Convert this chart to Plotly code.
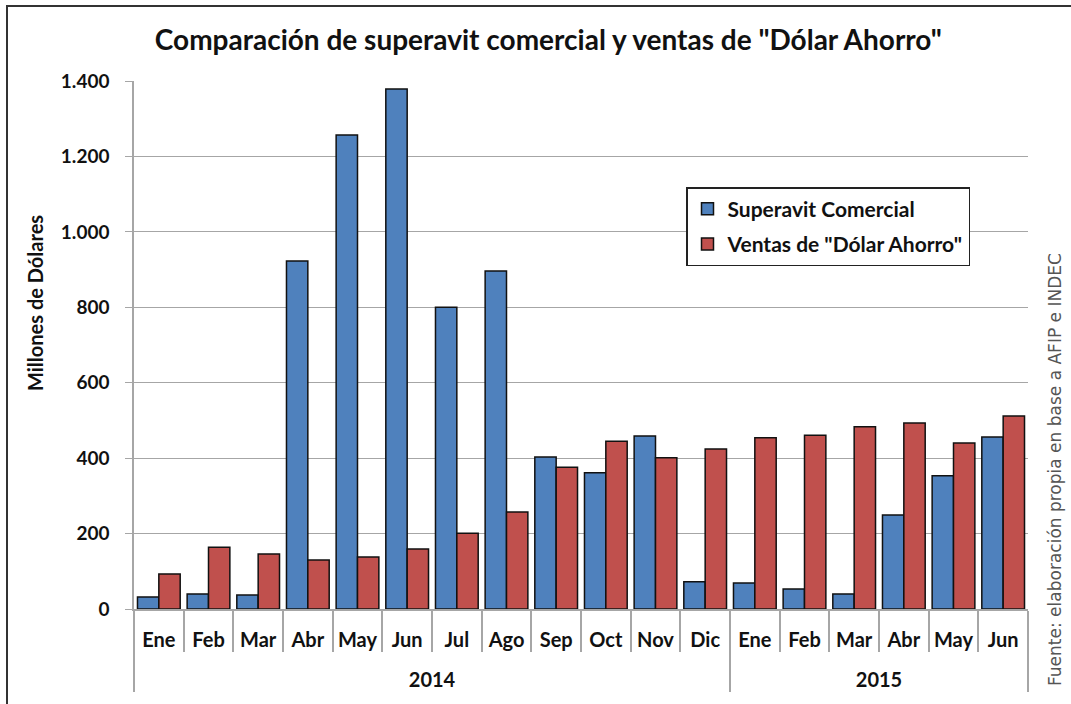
import plotly.graph_objects as go

years = ["2014"] * 12 + ["2015"] * 6
months = ["Ene", "Feb", "Mar", "Abr", "May", "Jun", "Jul", "Ago", "Sep", "Oct", "Nov", "Dic",
          "Ene", "Feb", "Mar", "Abr", "May", "Jun"]
superavit = [32, 40, 37, 923, 1257, 1379, 800, 896, 403, 361, 459, 72,
             69, 53, 40, 249, 353, 456]
dolar_ahorro = [93, 164, 146, 130, 138, 159, 201, 257, 376, 445, 401, 424,
                454, 461, 483, 493, 440, 512]
y_ticks = [0, 200, 400, 600, 800, 1000, 1200, 1400]
y_tick_text = ["0", "200", "400", "600", "800", "1.000", "1.200", "1.400"]

FONT = "Lato"
W, H = 1071, 704
L, R, T, B = 134, 43, 81, 95
pw, ph = W - L - R, H - T - B

year_labels = ["<br>" + y for y in years]

fig = go.Figure()
fig.add_trace(go.Bar(
    x=[year_labels, months], y=superavit, name="Superavit Comercial",
    legendgroup="a",
    marker=dict(color="#4F81BD", line=dict(color="#111111", width=1.5)),
))
fig.add_trace(go.Bar(
    x=[year_labels, months], y=dolar_ahorro, name='Ventas de "Dólar Ahorro"',
    legendgroup="b",
    marker=dict(color="#C0504D", line=dict(color="#111111", width=1.5)),
))

fig.update_layout(
    width=W, height=H,
    margin=dict(l=L, r=R, t=T, b=B, autoexpand=False),
    paper_bgcolor="white", plot_bgcolor="white",
    barmode="group", bargap=0.14, bargroupgap=0,
    font=dict(family=FONT, color="#111111"),
    title=dict(text='<b>Comparación de superavit comercial y ventas de "Dólar Ahorro"</b>',
               x=0.512, xanchor="center", y=0.943, yanchor="middle",
               font=dict(size=28, family=FONT, color="#111111")),
    legend=dict(x=(686 - L) / pw, y=1 - (187 - T) / ph, xanchor="left", yanchor="top",
                bgcolor="white", bordercolor="#222222", borderwidth=1.5,
                font=dict(size=21, family=FONT, color="#111111", weight="bold"),
                itemwidth=30, traceorder="grouped", tracegroupgap=5),
    showlegend=True,
)

fig.update_yaxes(
    range=[0, 1400], tickvals=y_ticks, ticktext=y_tick_text,
    showgrid=True, gridcolor="#A6A6A6", gridwidth=1.2,
    showline=True, linecolor="#A6A6A6", linewidth=1.5,
    ticks="outside", ticklen=7, tickcolor="#A6A6A6",
    ticklabelstandoff=12,
    tickfont=dict(size=19, family=FONT, color="#111111", weight="bold"),
    zeroline=False,
)
fig.update_xaxes(
    type="multicategory", tickangle=0,
    showline=True, linecolor="#A6A6A6", linewidth=1.5,
    ticks="outside", tickson="boundaries", ticklen=41, tickcolor="#A6A6A6", tickwidth=1.5,
    ticklabelstandoff=12,
    showdividers=True, dividercolor="#A6A6A6", dividerwidth=1.5,
    tickfont=dict(size=20, family=FONT, color="#111111", weight="bold"),
    showgrid=False,
)

# y axis title
fig.add_annotation(text="<b>Millones de Dólares</b>", xref="paper", yref="paper",
                   x=(35 - L) / pw, y=1 - (303 - T) / ph, textangle=-90, showarrow=False,
                   xanchor="center", yanchor="middle",
                   font=dict(size=20, family=FONT, color="#111111"))

# outer frame
fig.add_shape(type="rect", xref="paper", yref="paper",
              x0=-(L - 7) / pw, x1=(W + 20 - L) / pw,
              y0=-(B + 20) / ph, y1=1 + (T - 6) / ph,
              line=dict(color="#333333", width=2), fillcolor="rgba(0,0,0,0)", layer="below")

fig.add_annotation(text="Fuente: elaboración propia en base a AFIP e INDEC",
                   xref="paper", yref="paper", x=(1055 - L) / pw, y=1 - (470 - T) / ph,
                   textangle=-90, showarrow=False, xanchor="center", yanchor="middle",
                   font=dict(size=17, family="DejaVu Sans", color="#555555"))

fig.write_html("out.html", config={"displayModeBar": False},
               post_script="document.body.style.margin='0';")
